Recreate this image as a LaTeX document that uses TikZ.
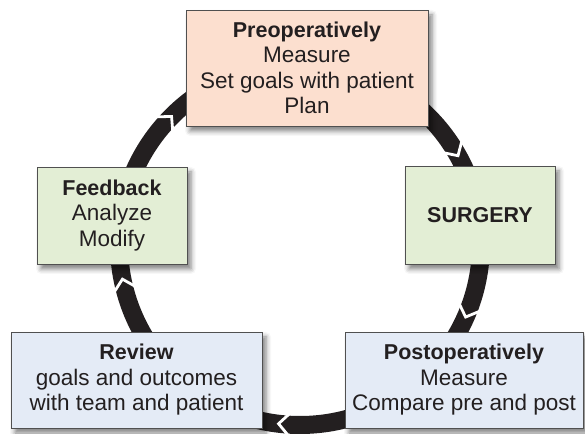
\documentclass[tikz,border=0pt]{standalone}
\usepackage{fontspec}
\setmainfont{Liberation Sans}
\usetikzlibrary{shadows,shadows.blur}
\definecolor{prefill}{RGB}{252,223,207}
\definecolor{midfill}{RGB}{227,238,213}
\definecolor{postfill}{RGB}{228,235,246}
\definecolor{boxline}{RGB}{80,80,80}
\definecolor{ink}{RGB}{35,31,32}
\newcommand{\stagehead}[1]{{\fontsize{21.5}{25.5}\selectfont\bfseries #1}}
\tikzset{
  basic/.style      = {draw=boxline, line width=0.9pt, align=center, text=ink,
                       font=\fontsize{22.5}{25.5}\selectfont,
                       blur shadow={shadow xshift=4pt, shadow yshift=-5pt, shadow blur radius=5pt, shadow opacity=50}},
  pre stage/.style  = {basic, fill=prefill},
  mid stage/.style  = {basic, fill=midfill},
  post stage/.style = {basic, fill=postfill},
  notch/.style      = {draw=white, line width=2.8pt, line join=miter}
}
\begin{document}
\begin{tikzpicture}[x=1pt,y=1pt]
    \useasboundingbox (0,0) rectangle (585,433);

    % the ring behind the boxes
    \coordinate (ring) at (300,189);
    \draw[line width=18pt, ink] (ring) circle (181);

    % white chevrons, running clockwise
    \foreach \a in {31,-22,-95,-167,137}
      \draw[notch] ([shift=({\a+1.8}:193)]ring) -- ([shift=({\a-1.8}:181)]ring) -- ([shift=({\a+1.8}:169)]ring);

    % the five stages
    \node[pre stage, minimum width=242, minimum height=116] (pre) at (307,365)
      {\stagehead{Preoperatively}\\Measure\\Set goals with patient\\Plan};
    \node[mid stage, minimum width=150, minimum height=98] (surg) at (480,218)
      {\stagehead{SURGERY}};
    \node[post stage, minimum width=238, minimum height=96] (post) at (464,53)
      {\stagehead{Postoperatively}\\Measure\\Compare pre and post};
    \node[post stage, minimum width=251, minimum height=96] (rev) at (136.5,53)
      {\stagehead{Review}\\goals and outcomes\\with team and patient};
    \node[mid stage, minimum width=150, minimum height=97] (feed) at (112,217.5)
      {\stagehead{Feedback}\\Analyze\\Modify};
\end{tikzpicture}
\end{document}
